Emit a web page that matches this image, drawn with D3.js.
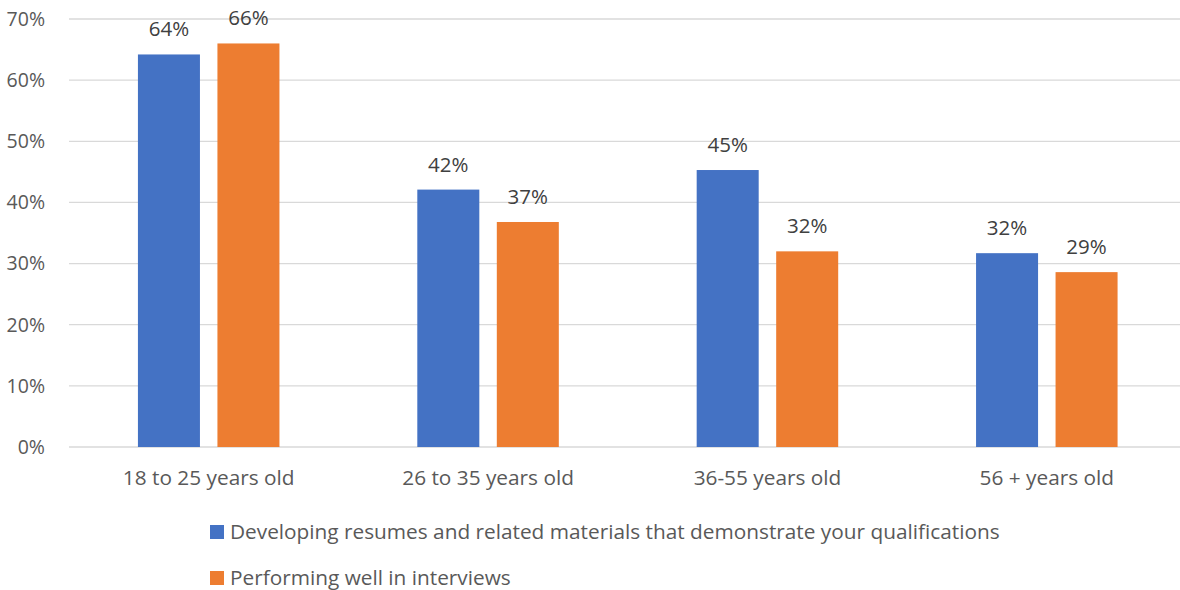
<!DOCTYPE html>
<html><head><meta charset="utf-8">
<script src="https://cdn.jsdelivr.net/npm/d3@7"></script>
<style>body{margin:0;background:#fff}svg{display:block}text{font-family:"Open Sans",Lato,sans-serif}</style>
</head><body><svg id="c" width="1180" height="590"></svg>
<script>
const categories = ["18 to 25 years old","26 to 35 years old","36-55 years old","56 + years old"];
const seriesNames = ["Developing resumes and related materials that demonstrate your qualifications","Performing well in interviews"];
const resumes = [64.2, 42.1, 45.3, 31.7];
const interviews = [66.0, 36.8, 32.0, 28.6];
const yTicks = [0,10,20,30,40,50,60,70];
const colors = ["#4472C4","#ED7D31"];

const svg = d3.select("#c");
const x = d3.scaleBand().domain(categories).range([69,1186.5]);
const xs = d3.scaleBand().domain([0,1]).range([0, x.bandwidth()]).paddingInner(0.22).paddingOuter(0.867);
const y = d3.scaleLinear().domain([0,70]).range([447,19]);

svg.append("g").selectAll("line").data(yTicks).join("line")
  .attr("x1",69).attr("x2",1186).attr("y1",d=>y(d)).attr("y2",d=>y(d))
  .attr("stroke","#d9d9d9").attr("stroke-width",1.3);
svg.append("g").selectAll("text").data(yTicks).join("text")
  .attr("x",45).attr("y",d=>y(d)).attr("dy","0.35em").attr("text-anchor","end")
  .attr("font-size",19.5).attr("fill","#595959").text(d=>d+"%");

const series = [resumes, interviews];
series.forEach((vals,si)=>{
  const g = svg.append("g");
  g.selectAll("rect").data(vals).join("rect")
    .attr("x",(d,i)=>x(categories[i])+xs(si)).attr("width",xs.bandwidth())
    .attr("y",d=>y(d)).attr("height",d=>y(0)-y(d)).attr("fill",colors[si]);
  g.selectAll("text").data(vals).join("text")
    .attr("x",(d,i)=>x(categories[i])+xs(si)+xs.bandwidth()/2)
    .attr("y",d=>y(d)-18).attr("text-anchor","middle")
    .attr("font-size",20.5).attr("fill","#404040").text(d=>Math.round(d)+"%");
});

svg.append("g").selectAll("text").data(categories).join("text")
  .attr("x",d=>x(d)+x.bandwidth()/2).attr("y",485).attr("text-anchor","middle")
  .attr("font-size",20.8).attr("fill","#595959").text(d=>d);

const lg = svg.append("g");
seriesNames.forEach((n,i)=>{
  const yy = 532 + i*46;
  lg.append("rect").attr("x",210).attr("y",yy-7).attr("width",14).attr("height",14).attr("fill",colors[i]);
  lg.append("text").attr("x",230).attr("y",yy).attr("dy","0.35em").attr("font-size",20.8).attr("fill","#595959").text(n);
});
</script></body></html>
